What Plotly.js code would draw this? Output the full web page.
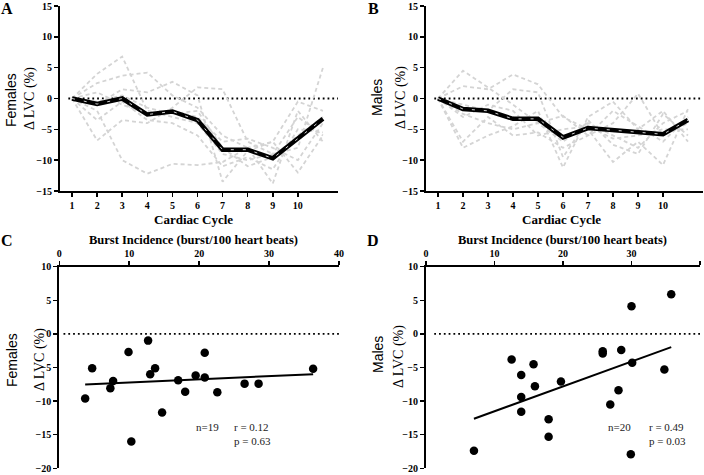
<!DOCTYPE html>
<html><head><meta charset="utf-8">
<script src="https://cdn.plot.ly/plotly-3.0.1.min.js"></script>
<style>html,body{margin:0;padding:0;background:#fff}#chart{width:704px;height:475px}</style>
</head><body><div id="chart"></div>
<script>
// ---- data ----
var cycles = [1,2,3,4,5,6,7,8,9,10,11];
var cycleTicks = [1,2,3,4,5,6,7,8,9,10];

var femaleMean = [0,-0.9,0,-2.6,-2.1,-3.5,-8.3,-8.3,-9.7,-6.5,-3.3];
var fem1 = [0,4,6.8,-2,-3,-4,-9,-10,-9,-3,-6];
var fem2 = [0,2.5,3.7,4.2,0.5,-1.5,-6,-8,-13.8,-2,-7];
var fem3 = [0,-2,-10,-12.2,-10.6,-10.8,-10.3,-8,-7,-12,-6];
var fem4 = [0,-6.8,-3.5,-4,-1.5,1.8,1.5,-7,-9,-8,5];
var fem5 = [0,-1,1.5,1,2.7,0.5,-13.5,-8.5,-7,-0.5,-2];
var fem6 = [0,-3.5,-0.5,-3.5,-4,-6,-11,-9.5,-11.5,-5,-5.5];
var fem7 = [0,1,-1,-2.5,-2,-3,-7,-6.5,-8,-10,-4];
var fem8 = [0,-0.5,0.5,-1.5,-2.5,-2,-8,-11,-9.5,-6,-3];

var maleMean = [0,-1.7,-2.0,-3.3,-3.3,-6.3,-4.8,-5.1,-5.4,-5.8,-3.5];
var mal1 = [0,4.5,1.8,-1,-4,-7,-4,-6,-8,-4,-2];
var mal2 = [0,2,1.5,3.9,2.3,-3,-5,-10.3,-7,-10.8,-1.7];
var mal3 = [0,-8,-6,-4.5,-2,-11.2,-3,-0.5,-5,-2,-7];
var mal4 = [0,-7,-3,-6,-5.5,-8,-6,-4,0.8,-6,-4];
var mal5 = [0,-1,-2,1.5,1,-9.5,-3.5,-7.5,-9,-2.5,-6];
var mal6 = [0,-2.5,-4,-5,-4,-2.8,-6,-2,-4.5,-7,-3];
var mal7 = [0,-3,-1,-2,-6,-5,-4.5,-6.5,-6,-5,-5];

var burstF = [3.7,4.7,7.3,7.7,9.9,10.3,12.7,13.0,13.7,14.7,17.0,18.0,19.5,20.8,20.8,22.6,26.5,28.5,36.3];
var lvcF   = [-9.6,-5.1,-8.1,-7.0,-2.7,-16.0,-1.0,-6.0,-5.1,-11.7,-6.9,-8.6,-6.2,-2.8,-6.5,-8.7,-7.4,-7.4,-5.2];
var burstM = [7.0,12.5,13.9,13.9,13.9,15.7,15.9,17.9,17.9,19.7,25.8,25.8,26.9,28.1,28.5,30.0,30.1,29.9,34.8,35.8];
var lvcM   = [-17.4,-3.8,-6.1,-9.4,-11.6,-4.5,-7.8,-12.7,-15.3,-7.1,-2.6,-2.9,-10.5,-8.4,-2.4,4.1,-4.3,-17.9,-5.3,5.9];

var statsF = ["n=19","r = 0.12","p = 0.63"];
var statsM = ["n=20","r = 0.49","p = 0.03"];

// ---- helpers ----
function fit(x, y){
  var n=x.length, mx=0, my=0;
  for(var i=0;i<n;i++){mx+=x[i];my+=y[i];}
  mx/=n; my/=n;
  var sxy=0,sxx=0;
  for(var i=0;i<n;i++){sxy+=(x[i]-mx)*(y[i]-my);sxx+=(x[i]-mx)*(x[i]-mx);}
  var b=sxy/sxx, a=my-b*mx;
  var x0=Math.min.apply(null,x), x1=Math.max.apply(null,x);
  return {x:[x0,x1], y:[a+b*x0,a+b*x1]};
}
var GREY = '#d4d4d4';
function subj(y, xa, ya){
  return {x:cycles, y:y, xaxis:xa, yaxis:ya, mode:'lines', hoverinfo:'skip',
    line:{color:GREY, width:1.8, dash:'4px,3px'}, showlegend:false};
}
function meanTraces(y, xa, ya){
  return [
    {x:cycles, y:y, xaxis:xa, yaxis:ya, mode:'lines', line:{color:'#000', width:4.5}, showlegend:false},
    {x:cycles, y:y, xaxis:xa, yaxis:ya, mode:'lines', line:{color:'#cfcfcf', width:1, dash:'3px,9px'}, showlegend:false}
  ];
}
var traces = [];
[fem1,fem2,fem3,fem4,fem5,fem6,fem7,fem8].forEach(function(s){traces.push(subj(s,'x','y'));});
traces = traces.concat(meanTraces(femaleMean,'x','y'));
[mal1,mal2,mal3,mal4,mal5,mal6,mal7].forEach(function(s){traces.push(subj(s,'x2','y2'));});
traces = traces.concat(meanTraces(maleMean,'x2','y2'));

var fF = fit(burstF, lvcF), fM = fit(burstM, lvcM);
traces.push({x:fF.x, y:fF.y, xaxis:'x3', yaxis:'y3', mode:'lines', line:{color:'#000', width:2}, showlegend:false});
traces.push({x:burstF, y:lvcF, xaxis:'x3', yaxis:'y3', mode:'markers', marker:{color:'#000', size:8.5}, showlegend:false});
traces.push({x:fM.x, y:fM.y, xaxis:'x4', yaxis:'y4', mode:'lines', line:{color:'#000', width:2}, showlegend:false});
traces.push({x:burstM, y:lvcM, xaxis:'x4', yaxis:'y4', mode:'markers', marker:{color:'#000', size:8.5}, showlegend:false});

var W=704, H=475;
function px(v){return v/W;} function py(v){return 1-v/H;}
var tickFont = {family:'Liberation Serif', size:10, color:'#000', weight:'bold'};
function yax(domain, range, dt){
  return {domain:domain, range:range, dtick:dt, tick0:0, showline:true, linewidth:2, linecolor:'#000',
    ticks:'outside', ticklen:4, tickwidth:1.5, tickcolor:'#000', showgrid:false, zeroline:false,
    tickfont:tickFont, fixedrange:true};
}
function xaxCycle(domain, anchor){
  return {domain:domain, anchor:anchor, range:[0.52,11.6], tickvals:cycleTicks, showline:true, linewidth:2, linecolor:'#000',
    ticks:'outside', ticklen:4, tickwidth:1.5, tickcolor:'#000', showgrid:false, zeroline:false, tickfont:tickFont};
}
function xaxBurst(domain, anchor){
  return {domain:domain, anchor:anchor, side:'top', range:[0,40], dtick:10, tick0:0, showline:true, linewidth:2, linecolor:'#000',
    ticks:'outside', ticklen:4, tickwidth:1.5, tickcolor:'#000', showgrid:false, zeroline:false, tickfont:tickFont};
}
var dAx = [px(60), px(338)], dBx = [px(426), px(703)];
var dCx = [px(59.3), px(339)], dDx = [px(426), px(700)];
var dTop = [py(191), py(6)], dBot = [py(468.3), py(266.7)];

function ann(text, x, y, font, extra){
  var a = {text:text, x:x, y:y, xref:'paper', yref:'paper', showarrow:false, xanchor:'center', yanchor:'middle', font:font};
  for (var k in extra) a[k]=extra[k];
  return a;
}
var panelFont = {family:'Liberation Serif', size:16, color:'#000', weight:'bold'};
var titleFont = {family:'Liberation Serif', size:13, color:'#000', weight:'bold'};
var burstFont = {family:'Liberation Serif', size:12.5, color:'#000', weight:'bold'};
var sexFont = {family:'Liberation Sans', size:14, color:'#000'};
var lvcFont = {family:'Liberation Serif', size:14, color:'#000'};
var statFont = {family:'Liberation Serif', size:11, color:'#222'};

var annotations = [
  ann('A', px(7), py(9), panelFont), ann('B', px(373), py(9), panelFont),
  ann('C', px(7), py(240), panelFont), ann('D', px(373), py(240), panelFont),
  ann('Cardiac Cycle', px(193), py(219), titleFont), ann('Cardiac Cycle', px(561), py(219), titleFont),
  ann('Burst Incidence (burst/100 heart beats)', px(193), py(240), burstFont),
  ann('Burst Incidence (burst/100 heart beats)', px(562), py(240), burstFont),
  ann('Females', px(11), py(100), sexFont, {textangle:-90}),
  ann('\u0394 LVC (%)', px(30), py(98), lvcFont, {textangle:-90}),
  ann('Males', px(377), py(98), sexFont, {textangle:-90}),
  ann('\u0394 LVC (%)', px(401), py(98), lvcFont, {textangle:-90}),
  ann('Females', px(12), py(360), sexFont, {textangle:-90}),
  ann('\u0394 LVC (%)', px(40), py(360), lvcFont, {textangle:-90}),
  ann('Males', px(378), py(355), sexFont, {textangle:-90}),
  ann('\u0394 LVC (%)', px(399), py(357), lvcFont, {textangle:-90}),
  {text:statsF[0], x:21.2, y:-13.9, xref:'x3', yref:'y3', showarrow:false, xanchor:'center', yanchor:'middle', font:statFont},
  {text:statsF[1], x:24.7, y:-13.9, xref:'x3', yref:'y3', showarrow:false, xanchor:'left', yanchor:'middle', font:statFont},
  {text:statsF[2], x:24.7, y:-16.0, xref:'x3', yref:'y3', showarrow:false, xanchor:'left', yanchor:'middle', font:statFont},
  {text:statsM[0], x:28.3, y:-13.9, xref:'x4', yref:'y4', showarrow:false, xanchor:'center', yanchor:'middle', font:statFont},
  {text:statsM[1], x:32.2, y:-13.9, xref:'x4', yref:'y4', showarrow:false, xanchor:'left', yanchor:'middle', font:statFont},
  {text:statsM[2], x:32.2, y:-16.0, xref:'x4', yref:'y4', showarrow:false, xanchor:'left', yanchor:'middle', font:statFont}
];
function zeroLine(xr, yr, x0){
  return {type:'line', xref:xr+' domain', yref:yr, x0:x0, x1:1, y0:0, y1:0, layer:'below', line:{color:'#000', width:1.8, dash:'1.8px,3px'}};
}
var layout = {
  width:W, height:H, margin:{l:0,r:0,t:0,b:0}, paper_bgcolor:'#fff', plot_bgcolor:'rgba(0,0,0,0)',
  showlegend:false, font:{family:'Liberation Serif', color:'#000'},
  xaxis:xaxCycle(dAx,'y'), yaxis:yax(dTop,[-15,15],5),
  xaxis2:xaxCycle(dBx,'y2'), yaxis2:yax(dTop,[-15,15],5),
  xaxis3:xaxBurst(dCx,'y3'), yaxis3:yax(dBot,[-20,10],5),
  xaxis4:xaxBurst(dDx,'y4'), yaxis4:yax(dBot,[-20,10],5),
  annotations:annotations,
  shapes:[zeroLine('x','y',0.03), zeroLine('x2','y2',0.03), zeroLine('x3','y3',0.015), zeroLine('x4','y4',0.03)]
};
layout.yaxis.anchor='x'; layout.yaxis2.anchor='x2'; layout.yaxis3.anchor='x3'; layout.yaxis4.anchor='x4';
Plotly.newPlot('chart', traces, layout, {staticPlot:true, displayModeBar:false});
</script></body></html>
